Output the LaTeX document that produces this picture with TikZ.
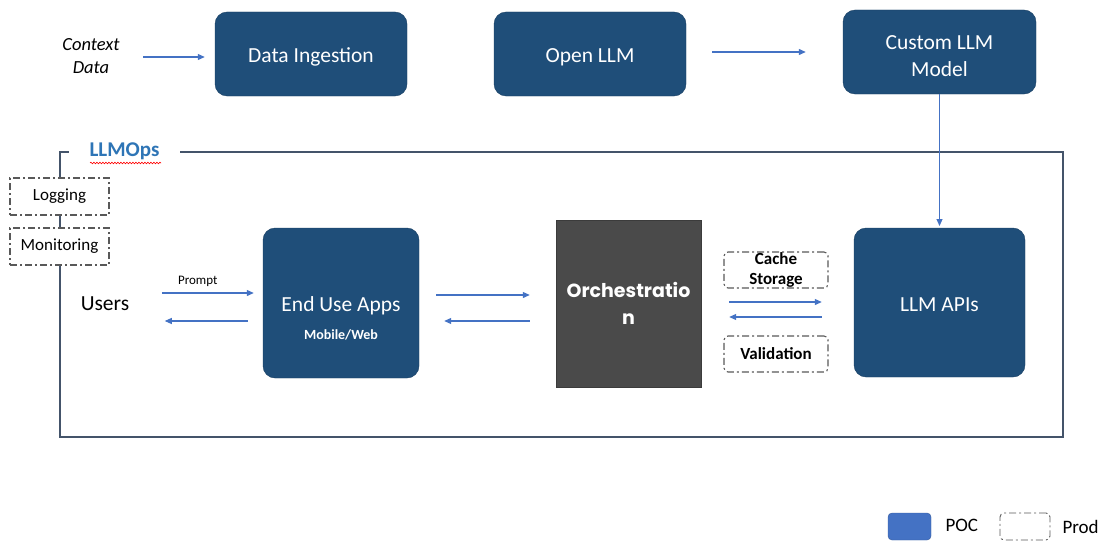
\documentclass[tikz,border=0pt]{standalone}
\usepackage{fontspec}
\setmainfont{Carlito}
\newfontfamily\popfont{Poppins}
\usetikzlibrary{arrows.meta,decorations.pathmorphing}
\definecolor{navy}{HTML}{1F4E79}
\definecolor{arrowblue}{HTML}{4472C4}
\definecolor{framegray}{HTML}{44546A}
\definecolor{dashgray}{HTML}{595959}
\definecolor{orchgray}{HTML}{4A4A4A}
\definecolor{opsblue}{HTML}{2E75B6}
\definecolor{pocblue}{HTML}{4472C4}
\tikzset{
  navybox/.style={draw=navy!80!black, fill=navy, rounded corners=12pt, text=white, font=\fontsize{21.5}{27}\selectfont, align=center, inner sep=0pt},
  oneline/.style={text height=18pt, text depth=0pt},
  prodbox/.style={draw=dashgray, line width=1.1pt, dash pattern=on 7pt off 3pt on 2pt off 3pt, fill=white, inner sep=0pt, align=center},
  flow/.style={draw=arrowblue, line width=1.1pt, -{Triangle[length=7pt,width=6pt]}},
}
\begin{document}
\begin{tikzpicture}[x=1pt,y=-1pt]
\useasboundingbox (0,0) rectangle (1111,543);
% LLMOps frame
\node[draw=framegray, line width=1.3pt, minimum width=1003pt, minimum height=285pt, inner sep=0pt] (frame) at (561.5,294.5) {};
\node[fill=white, inner xsep=21pt, inner ysep=2pt, text=opsblue, font=\fontsize{21}{24}\selectfont\bfseries] (ops) at (124.5,151) {LLMOps};
\draw[red, line width=0.6pt, decorate, decoration={snake, amplitude=0.8pt, segment length=3pt}] (90,163) coordinate (sq1) -- (161,163) coordinate (sq2);
% top row
\node[font=\fontsize{18.5}{23}\selectfont\itshape, align=center] (ctx) at (91,56) {Context\\Data};
\node[navybox, oneline, minimum width=192pt, minimum height=84pt] (di) at (311,54) {Data Ingestion};
\node[navybox, oneline, minimum width=192pt, minimum height=84pt] (ol) at (590,54) {Open LLM};
\node[navybox, minimum width=193pt, minimum height=84pt] (cl) at (939.5,52) {};
\node[text=white, font=\fontsize{21.5}{26.5}\selectfont, align=center] (clt) at (939.5,56) {Custom LLM\\Model};
\draw[flow, shorten <=20pt, shorten >=10pt] ([yshift=-1pt]ctx.east) -- ([yshift=-1pt]ctx.east -| di.west);
\draw[flow, shorten <=26pt, shorten >=37pt] ([yshift=2pt]ol.east) -- ([yshift=2pt]ol.east -| cl.west);
\draw[flow, shorten >=2pt] (cl.south) -- (cl.south |- 0,228);
% side boxes
\node[prodbox, minimum width=99pt, minimum height=37pt, font=\fontsize{17}{19}\selectfont] (log) at (59.5,196.5) {Logging};
\node[prodbox, minimum width=99pt, minimum height=37pt, font=\fontsize{17}{19}\selectfont] (mon) at (59.5,246.5) {Monitoring};
% middle row
\node[font=\fontsize{21.5}{24}\selectfont] (users) at (105,304) {Users};
\node[navybox, minimum width=156pt, minimum height=150pt] (eua) at (341,303) {};
\node[text=white, font=\fontsize{21.5}{24}\selectfont, anchor=center] (euat) at (341,306) {End Use Apps};
\node[text=white, font=\fontsize{14}{16}\selectfont\bfseries] (euas) at (341,335) {Mobile/Web};
\node[fill=orchgray, draw=orchgray!80!black, minimum width=145pt, minimum height=167pt, text=white, font=\popfont\fontsize{19}{27}\selectfont\bfseries, align=center] (orch) at (628.5,303.5) {Orchestratio\\n};
\node[navybox, oneline, minimum width=171pt, minimum height=149pt] (apis) at (939.5,302.5) {LLM APIs};
\node[prodbox, rounded corners=4pt, minimum width=104pt, minimum height=36pt, font=\fontsize{17}{20}\selectfont\bfseries] (cache) at (776,270) {Cache\\Storage};
\node[prodbox, rounded corners=4pt, minimum width=104pt, minimum height=36pt, font=\fontsize{17}{20}\selectfont\bfseries] (val) at (776,354) {Validation};
% arrows middle
\draw[flow, shorten <=29pt, shorten >=9pt] ([yshift=11pt]users.east) -- ([yshift=11pt]users.east -| eua.west) node[midway, above=3pt, text=black, font=\fontsize{13}{15}\selectfont] (prompt) {Prompt};
\draw[flow, shorten <=15pt, shorten >=32pt] ([yshift=-18pt]eua.west) -- ([yshift=-18pt]eua.west -| users.east);
\draw[flow, shorten <=17pt, shorten >=26pt] ([yshift=8pt]eua.east) -- ([yshift=8pt]eua.east -| orch.west);
\draw[flow, shorten <=26pt, shorten >=25pt] ([yshift=-17.5pt]orch.west) -- ([yshift=-17.5pt]orch.west -| eua.east);
\draw[flow, shorten <=28pt, shorten >=32pt] ([yshift=1.5pt]orch.east) -- ([yshift=1.5pt]orch.east -| apis.west);
\draw[flow, shorten <=32pt, shorten >=28pt] ([yshift=-13.5pt]orch.east -| apis.west) -- ([yshift=-13.5pt]orch.east);
% legend
\node[fill=pocblue, draw=pocblue!80!black, rounded corners=4pt, minimum width=43pt, minimum height=27pt] (poc) at (909.5,526.5) {};
\node[font=\fontsize{19}{21}\selectfont, anchor=west] (poct) at (942,525) {POC};
\node[prodbox, line width=0.9pt, rounded corners=4pt, minimum width=50pt, minimum height=27pt] (prod) at (1025,526.5) {};
\node[font=\fontsize{19}{21}\selectfont, anchor=west] (prodt) at (1059,527) {Prod};
\end{tikzpicture}
\end{document}
